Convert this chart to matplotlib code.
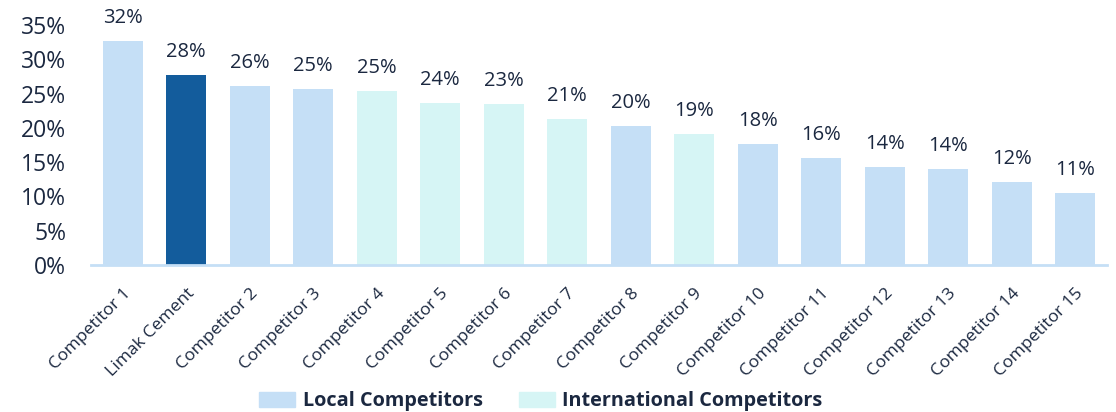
import matplotlib.pyplot as plt
from matplotlib.patches import Patch

companies = ["Competitor 1", "Limak Cement", "Competitor 2", "Competitor 3", "Competitor 4",
             "Competitor 5", "Competitor 6", "Competitor 7", "Competitor 8", "Competitor 9",
             "Competitor 10", "Competitor 11", "Competitor 12", "Competitor 13",
             "Competitor 14", "Competitor 15"]
shares = [32.7, 27.7, 26.1, 25.7, 25.4, 23.6, 23.5, 21.3, 20.3, 19.1,
          17.6, 15.6, 14.3, 14.0, 12.1, 10.5]
share_labels = ["32%", "28%", "26%", "25%", "25%", "24%", "23%", "21%", "20%", "19%",
                "18%", "16%", "14%", "14%", "12%", "11%"]
groups = ["local", "limak", "local", "local", "intl", "intl", "intl", "intl", "local", "intl",
          "local", "local", "local", "local", "local", "local"]

colors = {"local": "#c5dff6", "intl": "#d6f5f5", "limak": "#135c9c"}
text_color = "#1b2840"

plt.rcParams['font.family'] = ['Open Sans', 'DejaVu Sans']

fig = plt.figure(figsize=(11.16, 4.12), dpi=100)
ax = fig.add_axes([91 / 1116, 1 - 265 / 412, 1016 / 1116, 240 / 412])

x = range(len(companies))
bars = ax.bar(x, shares, width=0.63, color=[colors[g] for g in groups])

for b, lab in zip(bars, share_labels):
    ax.text(b.get_x() + b.get_width() / 2, b.get_height() + 1.9, lab,
            ha="center", va="bottom", fontsize=14.5, color=text_color, clip_on=False)

ax.set_xlim(-0.5, len(companies) - 0.5)
ax.set_ylim(0, 35)
ax.set_yticks(range(0, 36, 5))
ax.set_yticklabels([f"{v}%" for v in range(0, 36, 5)], fontsize=16.5, color=text_color)
ax.set_xticks(list(x))
ax.set_xticklabels(companies, rotation=45, ha="right", rotation_mode="anchor",
                   fontsize=12.6, color=text_color)
ax.tick_params(axis="both", length=0)
ax.tick_params(axis="y", pad=18)
ax.tick_params(axis="x", pad=15)

for s in ["top", "right", "left"]:
    ax.spines[s].set_visible(False)
ax.spines["bottom"].set_color("#c5dff6")
ax.spines["bottom"].set_linewidth(2)

handles = [Patch(color=colors["local"], label="Local Competitors"),
           Patch(color=colors["intl"], label="International Competitors")]
leg = fig.legend(handles=handles, loc="center", bbox_to_anchor=(541 / 1116, 1 - 401 / 412),
                 ncol=2, frameon=False, handlelength=1.8, handleheight=0.8,
                 columnspacing=1.8, handletextpad=0.4,
                 prop={"weight": "bold", "size": 14.3})
for t in leg.get_texts():
    t.set_color(text_color)

fig.savefig("out.png", dpi=100)
